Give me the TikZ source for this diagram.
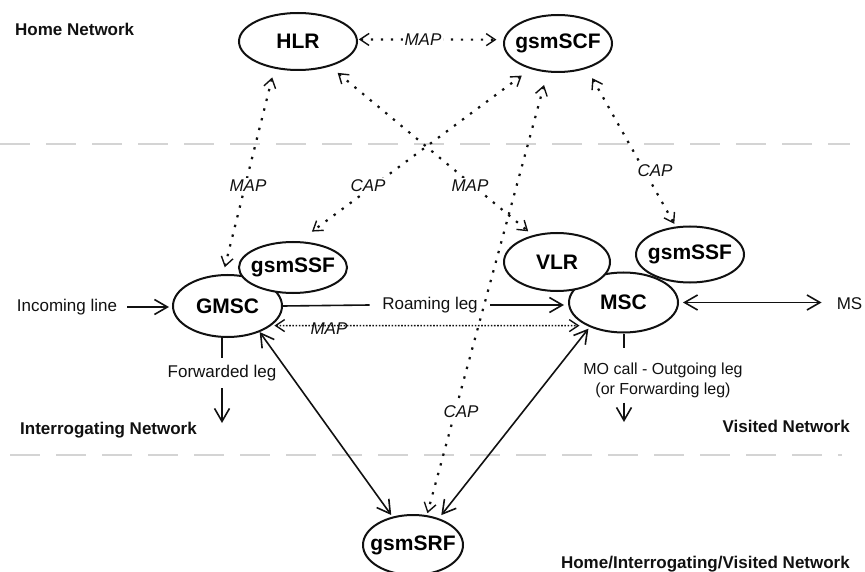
\documentclass[tikz,border=0pt]{standalone}
\usepackage{fontspec}
\setmainfont{Liberation Sans}
\usepackage{tikz}
\usetikzlibrary{arrows.meta,shapes.geometric}
\usepackage{xcolor}
\definecolor{ink}{HTML}{111111}
\definecolor{rule}{HTML}{D4D4D4}
\newcommand{\boxless}[1]{\makebox[0pt]{#1}}

\begin{document}
\begin{tikzpicture}[x=1pt, y=-1pt,
    entity/.style={ellipse, draw=ink, fill=white, line width=2pt, inner sep=0pt,
      minimum width=108pt, minimum height=57pt, font=\fontsize{21}{24}\selectfont\bfseries},
    note/.style={ink, inner sep=0pt, font=\fontsize{17}{20}\selectfont},
    netname/.style={ink, inner sep=0pt, font=\fontsize{17}{20}\selectfont\bfseries},
    proto/.style={ink, fill=white, inner sep=2pt, font=\fontsize{17}{20}\selectfont\itshape},
    leg/.style={ink, line width=1.6pt, >={Straight Barb[length=13pt,width=15pt,line width=1.6pt]}},
    sig/.style={ink, line width=2.2pt, dash pattern=on 2.4pt off 7.6pt,
      >={Straight Barb[length=9pt,width=12pt,line width=1.4pt]}, <->},
    rulerline/.style={rule, line width=1.6pt, dash pattern=on 30pt off 16pt}]
    \useasboundingbox (0,0) rectangle (865,572);

    % borders between the networks
    \draw[rulerline] (0,144) -- (850,144);
    \draw[rulerline] (10,455) -- (842,455);

    % network names
    \node[netname, anchor=west] (homenet) at (15,29) {Home Network};
    \node[netname, anchor=west] (intnet) at (20,430) {Interrogating Network};
    \node[netname, anchor=east] (visnet) at (850,426) {Visited Network};
    \node[netname, anchor=east] (allnet) at (850,564) {Home/Interrogating/Visited Network};

    % entities
    \node[entity, minimum width=118pt] (HLR) at (298,41.5) {\boxless{HLR}};
    \node[entity] (SCF) at (558,43.5) {\boxless{gsmSCF}};
    \node[entity, minimum width=109pt, minimum height=62pt] (GMSC) at (227.5,306) {\boxless{GMSC}};
    \node[entity, minimum height=51pt] (SSFi) at (293,267.5) {\boxless{gsmSSF}};
    \node[entity, minimum width=109pt, minimum height=60pt] (MSC) at (623.5,302.5) {\boxless{MSC}};
    \node[entity, minimum width=106pt, minimum height=58pt] (VLR) at (557,262) {\boxless{VLR}};
    \node[entity, minimum height=56pt] (SSFv) at (690,254.5) {\boxless{gsmSSF}};
    \node[entity, minimum width=100pt, minimum height=60pt] (SRF) at (413,545) {\boxless{gsmSRF}};

    % call legs
    \node[note, inner xsep=10pt] (incoming) at (67,307) {Incoming line};
    \draw[leg, ->, shorten >=3pt] (incoming.east) -- (incoming.east -| GMSC.west);
    \node[note, inner xsep=12.5pt] (roam) at (430,305) {Roaming leg};
    \draw[leg] (GMSC.east) -- (roam.west);
    \draw[leg, ->, shorten >=4pt] (roam.east) -- (roam.east -| MSC.west);
    \node[note] (ms) at (849.5,303.5) {MS};
    \draw[leg, <->, shorten <=4pt, shorten >=15pt] (MSC.east) -- (MSC.east -| ms.west);
    \node[note, inner ysep=7pt] (fwd) at (222,373) {Forwarded leg};
    \coordinate (fwdend) at (222,423);
    \draw[leg] (fwd.north |- GMSC.south) -- (fwd.north);
    \draw[leg, ->] (fwd.south) -- (fwdend);
    \node[note, align=center, font=\fontsize{16}{20}\selectfont] (mo) at (663,380) {MO call - Outgoing leg\\(or Forwarding leg)};
    \coordinate (moend) at (624,422);
    \draw[leg] (moend |- MSC.south) -- ([yshift=14pt]moend |- mo.north);
    \draw[leg, ->] ([yshift=-5pt]moend |- mo.south) -- (moend);
    \draw[leg, <->, shorten >=2pt] (GMSC.321) -- (SRF.126);
    \draw[leg, <->, shorten <=2pt, shorten >=4pt] (MSC.216) -- (SRF.46);

    % signalling (dotted)
    \draw[sig, shorten <=1pt, shorten >=7pt] (HLR.2) -- (SCF.176);
    \draw[sig, shorten <=9pt, shorten >=7pt] (HLR.229) -- (GMSC.98);
    \draw[sig, shorten <=11pt, shorten >=16pt] (SCF.223) -- (SSFi.77);
    \draw[sig, shorten <=10pt, shorten >=6pt] (HLR.322) -- (VLR.132);
    \draw[sig, shorten <=13pt, shorten >=2pt] (SCF.250) -- (SRF.65);
    \draw[sig, shorten <=11pt, shorten >=3pt] (SCF.319) -- (SSFv.117);
    \draw[sig, line width=1.6pt, dash pattern=on 1.6pt off 1.6pt, shorten <=3pt, shorten >=7pt] (GMSC.336) -- (MSC.212);

    % protocol names
    \node[proto] (mapHS) at (423,40) {MAP};
    \node[proto] (mapHG) at (248,186) {MAP};
    \node[proto] (capSI) at (368,186) {CAP};
    \node[proto] (mapHV) at (470,186) {MAP};
    \node[proto] (capSV) at (655,171) {CAP};
    \node[proto] (capSR) at (461,412) {CAP};
    \node[proto, fill=none] (mapGM) at (329,329) {MAP};
\end{tikzpicture}
\end{document}
